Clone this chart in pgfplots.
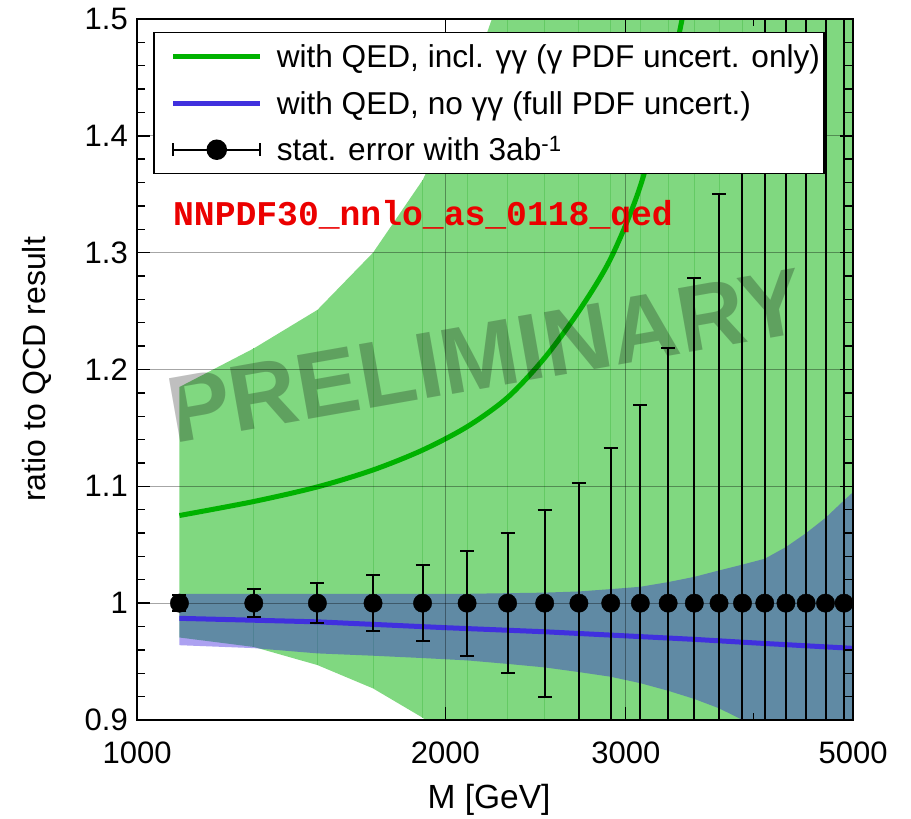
\documentclass[border=0pt]{standalone}
\usepackage{fontspec}
\setmainfont{Liberation Sans}
\newfontfamily\labelmono{Liberation Mono}
\usepackage{pgfplots}
\pgfplotsset{compat=1.18}

\definecolor{bandgreen}{RGB}{128,216,128}
\definecolor{seamgreen}{RGB}{100,202,100}
\definecolor{linegreen}{RGB}{0,178,0}
\definecolor{bandblue}{RGB}{48,21,220}
\definecolor{lineblue}{RGB}{64,48,222}
\definecolor{labelred}{RGB}{235,0,0}

\begin{document}
\begin{tikzpicture}
\begin{axis}[
  scale only axis, width=716pt, height=701pt,
  xmode=log, xmin=1000, xmax=5000,
  ymin=0.9, ymax=1.5,
  xtick={1000,2000,3000,5000}, xticklabels={1000,2000,3000,5000},
  extra x ticks={4000}, extra x tick labels={},
  extra x tick style={grid=none, major tick length=7pt},
  xminorticks=false,
  ytick={0.9,1,1.1,1.2,1.3,1.4,1.5},
  minor y tick num=4,
  major tick length=13pt, minor tick length=8pt,
  tick style={black, line width=1.4pt},
  axis line style={line width=2pt},
  grid=major, major grid style={black, opacity=0.35, line width=1pt},
  axis on top,
  /pgf/number format/assume math mode=true,
  tick label style={font=\fontsize{31}{37}\selectfont},
  xticklabel style={anchor=base, yshift=-44pt},
  yticklabel style={anchor=east, inner sep=0pt, xshift=-9pt},
  xlabel={M [GeV]}, ylabel={ratio to QCD result},
  ylabel style={font=\fontsize{32}{38}\selectfont,
    at={([xshift=-100pt]axis description cs:0,0.5)}, anchor=center},
  xlabel style={font=\fontsize{33.5}{40}\selectfont,
    at={([yshift=-80pt, xshift=-6pt]axis description cs:0.5,0)}, anchor=center},
  legend style={at={(0.02235,0.98146)}, anchor=north west, draw=black, line width=1.5pt,
    fill=white, font=\fontsize{31.6}{38}\selectfont, inner xsep=4pt, inner ysep=11pt,
    row sep=20.5pt, column sep=14pt, nodes={inner sep=0pt, text height=24pt, text depth=2pt}},
  legend cell align=left,
]

% photon-PDF uncertainty band (with gamma-gamma)
\addplot[draw=none, fill=bandgreen, forget plot] coordinates {
  (1100,1.185) (1300,1.218) (1500,1.251) (1700,1.300) (1900,1.362) (2100,1.440)
  (2300,1.538) (2500,1.65) (5000,2.6)
  (5000,0.4) (2500,0.79) (2300,0.835) (2100,0.872) (1900,0.902) (1700,0.927)
  (1500,0.947) (1300,0.9625) (1100,0.9706)
} -- cycle;

% seams between the band segments
\addplot[forget plot, draw=none, no markers,
  error bars/.cd, y dir=both, y explicit, error mark=none,
  error bar style={draw=seamgreen, line width=1pt}]
  coordinates {
  (1300,1.09025) +- (0,0.12775)
  (1500,1.099) +- (0,0.152)
  (1700,1.1135) +- (0,0.1865)
  (1900,1.132) +- (0,0.230)
  (2100,1.156) +- (0,0.284)
  (2300,1.2) +- (0,0.35)
  (2500,1.2) +- (0,0.35)
  (2700,1.2) +- (0,0.35)
  (2900,1.2) +- (0,0.35)
  (3100,1.2) +- (0,0.35)
  (3300,1.2) +- (0,0.35)
  (3500,1.2) +- (0,0.35)
  (3700,1.2) +- (0,0.35)
  (3900,1.2) +- (0,0.35)
  (4100,1.2) +- (0,0.35)
  (4300,1.2) +- (0,0.35)
  (4500,1.2) +- (0,0.35)
  (4700,1.2) +- (0,0.35)
  (4900,1.2) +- (0,0.35)
};

% full PDF uncertainty band (no gamma-gamma)
\addplot[draw=none, fill=bandblue, fill opacity=0.4, forget plot] coordinates {
  (1100,1.008) (2100,1.008) (2500,1.009) (2700,1.010) (2900,1.012) (3100,1.014)
  (3300,1.018) (3500,1.0225) (3700,1.028) (3900,1.033) (4100,1.038) (4300,1.048)
  (4500,1.060) (4700,1.073) (4900,1.088) (5000,1.095)
  (5000,0.82) (4900,0.83) (4700,0.845) (4500,0.86) (4300,0.875) (4100,0.888)
  (3900,0.900) (3700,0.910) (3500,0.918) (3300,0.925) (3100,0.9315) (2900,0.937)
  (2700,0.941) (2500,0.945) (2300,0.948) (2100,0.951) (1900,0.953) (1700,0.955)
  (1500,0.957) (1300,0.9615) (1100,0.964)
} -- cycle;

\addplot[linegreen, line width=5pt, smooth,
  legend image code/.code={\path (0pt,0pt); \draw[linegreen, line width=5pt] (13pt,0pt) -- (100pt,0pt);}]
  coordinates {
  (1100,1.075) (1300,1.087) (1500,1.0995) (1700,1.114) (1900,1.131) (2100,1.151)
  (2300,1.176) (2500,1.210) (2700,1.250) (2900,1.295) (3100,1.357) (3300,1.445)
  (3400,1.497) (3500,1.555)
};
\addlegendentry{with QED, incl. γγ (γ PDF uncert. only)}

\addplot[lineblue, line width=5pt,
  legend image code/.code={\path (0pt,0pt); \draw[lineblue, line width=5pt] (13pt,0pt) -- (100pt,0pt);}]
  coordinates {
  (1100,0.987) (1500,0.984) (2000,0.979) (2500,0.9755) (3000,0.972)
  (3500,0.969) (4000,0.966) (4500,0.9635) (5000,0.9613)
};
\addlegendentry{with QED, no γγ (full PDF uncert.)}

\node[anchor=base west, inner sep=0pt, text=labelred,
  font=\labelmono\bfseries\fontsize{34.7}{40}\selectfont]
  at (axis cs:1084,1.3236) {NNPDF30\_nnlo\_as\_0118\_qed};

\node[rotate=10, inner sep=0pt, text=black, text opacity=0.25,
  font=\bfseries\fontsize{94}{100}\selectfont]
  at (axis cs:2190,1.212) {PRELIMINARY};

% statistical errors for 3/ab
\addplot[black, only marks, mark=*, mark size=9.2pt,
  mark options={fill=black, draw=black},
  legend image code/.code={
    \path (0pt,0pt);
    \draw[black, line width=1.6pt] (13pt,0pt) -- (100pt,0pt);
    \draw[black, line width=1.6pt] (13pt,-6.5pt) -- (13pt,6.5pt);
    \draw[black, line width=1.6pt] (100pt,-6.5pt) -- (100pt,6.5pt);
    \fill[black] (56.5pt,0pt) circle (9.5pt);},
  error bars/.cd, y dir=both, y explicit,
  error bar style={line width=2pt, black},
  error mark options={rotate=90, mark size=7pt, line width=2pt, black}]
  coordinates {
  (1100,1) +- (0,0.007)
  (1300,1) +- (0,0.012)
  (1500,1) +- (0,0.017)
  (1700,1) +- (0,0.024)
  (1900,1) +- (0,0.0325)
  (2100,1) +- (0,0.045)
  (2300,1) +- (0,0.060)
  (2500,1) +- (0,0.080)
  (2700,1) +- (0,0.103)
  (2900,1) +- (0,0.1325)
  (3100,1) +- (0,0.170)
  (3300,1) +- (0,0.218)
  (3500,1) +- (0,0.278)
  (3700,1) +- (0,0.350)
  (3900,1) +- (0,0.44)
  (4100,1) +- (0,0.55)
  (4300,1) +- (0,0.68)
  (4500,1) +- (0,0.84)
  (4700,1) +- (0,1.03)
  (4900,1) +- (0,1.26)
};
\addlegendentry{stat. error with 3ab\textsuperscript{-1}}

\coordinate (bbsw) at (rel axis cs:0,0);
\coordinate (bbne) at (rel axis cs:1,1);
\end{axis}
\path ([shift={(-137pt,-98pt)}]bbsw) rectangle ([shift={(58pt,19pt)}]bbne);
\end{tikzpicture}
\end{document}
